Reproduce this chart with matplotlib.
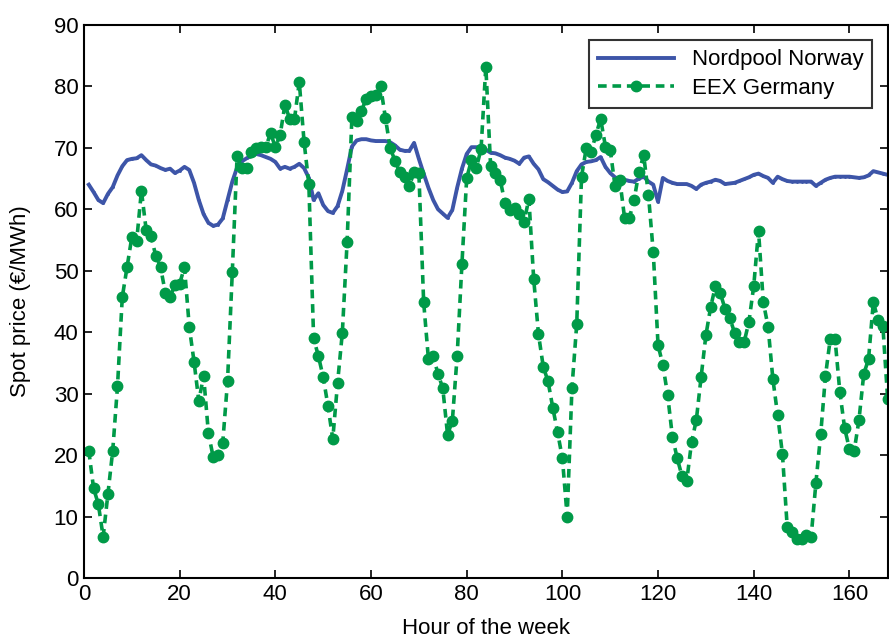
import matplotlib.pyplot as plt
import numpy as np

plt.rcParams['font.family'] = ['Liberation Sans', 'DejaVu Sans']

hours = np.arange(1, 169)

nordpool = [
    64.0, 62.8, 61.5, 61.0, 62.5, 63.6, 65.5, 67.0, 68.0, 68.2,
    68.3, 68.8, 68.0, 67.3, 67.1, 66.7, 66.4, 66.6, 65.9, 66.3,
    66.9, 66.4, 64.3, 61.5, 59.2, 57.8, 57.3, 57.5, 58.5, 61.5,
    64.5, 66.8, 67.8, 68.3, 68.7, 69.0, 68.8, 68.5, 68.2, 67.7,
    66.6, 66.9, 66.6, 66.9, 67.4, 66.7, 65.1, 61.5, 62.6, 60.7,
    59.7, 59.4, 60.5, 63.0, 66.5, 70.2, 71.2, 71.4, 71.4, 71.2,
    71.1, 71.1, 71.1, 70.9, 70.4, 69.7, 69.5, 69.5, 70.8, 68.2,
    65.8, 63.5, 61.5, 60.0, 59.3, 58.6, 59.9, 63.5, 66.6, 69.0,
    70.1, 70.1, 70.1, 69.7, 69.2, 69.1, 68.8, 68.4, 68.2, 67.9,
    67.4, 68.4, 68.6, 67.4, 66.5, 64.9, 64.4, 63.8, 63.2, 62.8,
    62.9, 64.3, 66.2, 67.3, 67.7, 67.8, 68.0, 68.5, 66.9, 65.9,
    65.2, 64.9, 64.8, 64.6, 64.5, 65.0, 65.3, 64.5, 64.0, 61.2,
    65.1, 64.6, 64.3, 64.1, 64.1, 64.1, 63.8, 63.3, 64.0, 64.3,
    64.5, 64.8, 64.6, 64.1, 64.2, 64.3, 64.6, 64.9, 65.2, 65.6,
    65.8, 65.4, 65.1, 64.3, 65.3, 64.9, 64.6, 64.5, 64.5, 64.5,
    64.5, 64.5, 63.8, 64.3, 64.8, 65.1, 65.3, 65.3, 65.3, 65.3,
    65.2, 65.1, 65.2, 65.5, 66.2, 66.0, 65.8, 65.6,
]

eex = [
    20.7, 14.6, 12.0, 6.7, 13.7, 20.7, 31.2, 45.7, 50.6, 55.5,
    54.8, 63.0, 56.6, 55.7, 52.4, 50.6, 46.4, 45.7, 47.7, 47.9,
    50.6, 40.9, 35.2, 28.8, 32.9, 23.6, 19.7, 20.0, 22.0, 32.0,
    49.8, 68.7, 66.7, 66.7, 69.3, 70.0, 70.1, 70.1, 72.4, 70.1,
    72.1, 77.0, 74.7, 74.7, 80.7, 71.0, 64.1, 39.0, 36.1, 32.7,
    28.0, 22.6, 31.7, 39.9, 54.7, 75.0, 74.4, 76.0, 78.0, 78.4,
    78.6, 80.0, 74.9, 70.0, 67.9, 66.0, 65.3, 63.8, 66.0, 65.9,
    44.9, 35.6, 36.1, 33.2, 30.9, 23.3, 25.6, 36.1, 51.1, 65.1,
    68.0, 66.7, 69.8, 83.2, 67.0, 65.9, 64.8, 61.0, 59.8, 60.2,
    59.2, 58.0, 61.7, 48.7, 39.7, 34.4, 32.0, 27.7, 23.7, 19.5,
    10.0, 30.9, 41.3, 65.3, 70.0, 69.3, 72.1, 74.7, 70.2, 69.7,
    63.8, 64.8, 58.6, 58.6, 61.5, 66.1, 68.8, 62.3, 53.0, 37.9,
    34.7, 29.8, 23.0, 19.5, 16.6, 15.8, 22.1, 25.7, 32.7, 39.5,
    44.1, 47.5, 46.4, 43.8, 42.3, 39.9, 38.4, 38.4, 41.7, 47.5,
    56.5, 44.9, 40.9, 32.4, 26.5, 20.2, 8.3, 7.5, 6.3, 6.3,
    7.0, 6.7, 15.5, 23.4, 32.9, 38.9, 38.9, 30.3, 24.4, 21.0,
    20.7, 25.7, 33.2, 35.6, 44.9, 42.0, 41.0, 29.1,
]

blue = '#3d55a8'
green = '#009a48'

fig = plt.figure(figsize=(8.89, 6.38), dpi=100)
ax = fig.add_axes([0.0945, 0.094, 0.904, 0.867])

ax.plot(hours, nordpool, color=blue, lw=2.8, marker='.', ms=2,
        label='Nordpool Norway')
ax.plot(hours, eex, color=green, lw=2.6, ls=(0, (2.4, 1.6)), marker='o',
        ms=7.5, label='EEX Germany')

ax.set_xlim(0, 168)
ax.set_ylim(0, 90)
ax.set_xticks(range(0, 161, 20))
ax.set_yticks(range(0, 91, 10))
ax.tick_params(direction='in', length=6, width=1.2, labelsize=16,
               top=True, right=True, pad=4)
for s in ax.spines.values():
    s.set_linewidth(1.5)

ax.set_xlabel('Hour of the week', fontsize=16, labelpad=10)
ax.set_ylabel('Spot price (€/MWh)', fontsize=16, labelpad=16)

leg = ax.legend(loc='upper right', fontsize=16, frameon=True, fancybox=False,
                edgecolor='black', handlelength=3.4, borderaxespad=0.7,
                labelspacing=0.35)
leg.get_frame().set_linewidth(1.5)

fig.savefig('out.png', dpi=100)
